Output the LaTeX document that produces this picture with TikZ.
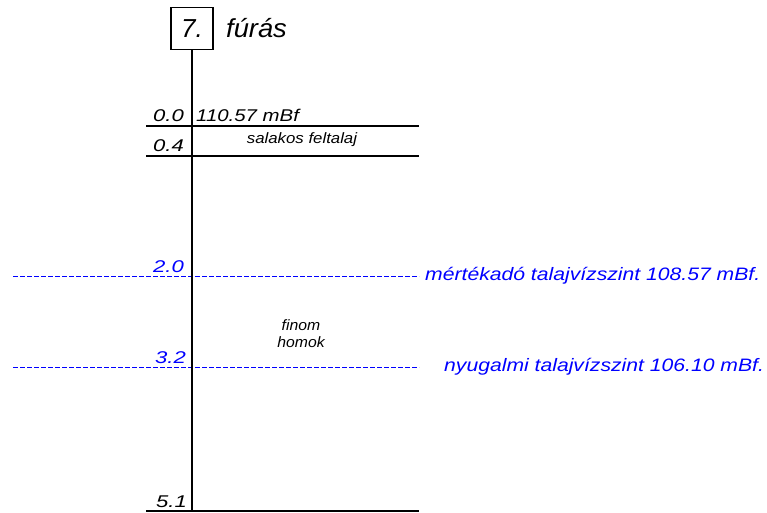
\documentclass[tikz,border=0pt]{standalone}
\usepackage{fontspec}
\setmainfont{Liberation Sans}
\newfontfamily\cadA[FakeStretch=1.3]{Liberation Sans}
\newfontfamily\cadB[FakeStretch=1.2]{Liberation Sans}
\newfontfamily\cadW[FakeStretch=1.175]{Liberation Sans}
\newfontfamily\cadC[FakeStretch=1.12]{Liberation Sans}
\newfontfamily\cadD[FakeStretch=1.05]{Liberation Sans}
\definecolor{wblue}{RGB}{0,0,255}
\begin{document}
\begin{tikzpicture}[x=1pt,y=-1pt,
  soil/.style={line width=1.3pt,black},
  water/.style={line width=1pt,draw=wblue,color=wblue,dash pattern=on 5pt off 2pt},
  depth/.style={anchor=base west,inner sep=0pt,font=\cadA\fontsize{17}{17}\selectfont\itshape},
  lbl/.style={inner sep=0pt,align=center},
  wlbl/.style={anchor=west,inner sep=0pt,text=wblue,font=\cadW\fontsize{18}{18}\selectfont\itshape}]
\useasboundingbox (0,0) rectangle (767,513);
% water lines
\coordinate (w1a) at (13,276.5); \coordinate (w1b) at (419,276.5);
\coordinate (w2a) at (13,367.5); \coordinate (w2b) at (419,367.5);
\draw[water] (w1a) -- (w1b) (w2a) -- (w2b);
% title box
\node[draw,line width=1.3pt,minimum width=42pt,minimum height=42pt,inner sep=0pt,
  font=\fontsize{26}{26}\selectfont\itshape] (box) at (192,28.5) {7.};
\node[anchor=base west,inner sep=0pt,font=\cadD\fontsize{26}{26}\selectfont\itshape] (title) at (226,38) {fúrás};
% axis
\coordinate (axbot) at (192,511);
\draw[soil] (box.south) -- (axbot);
% layer lines
\coordinate (l0a) at (146,126); \coordinate (l0b) at (419,126);
\coordinate (l1a) at (146,156); \coordinate (l1b) at (419,156);
\coordinate (l5a) at (146,511); \coordinate (l5b) at (419,511);
\draw[soil] (l0a) -- (l0b);
\draw[soil] (l1a) -- (l1b);
\draw[soil] (l5a) -- (l5b);
% depth labels
\node[depth] (d0) at (153,122) {0.0};
\node[depth,font=\cadB\fontsize{17}{17}\selectfont\itshape] (elev) at (196,122) {110.57 mBf};
\node[depth] (d1) at (153,152) {0.4};
\node[depth,text=wblue] (d2) at (153,272) {2.0};
\node[depth,text=wblue] (d3) at (155,363) {3.2};
\node[depth] (d5) at (156,507) {5.1};
% layer names
\node[lbl,font=\cadC\fontsize{15}{16}\selectfont\itshape] (salak) at (302,140) {salakos feltalaj};
\node[lbl,font=\cadD\fontsize{15}{17}\selectfont\itshape] (homok) at (301,334) {finom\\homok};
% water level labels
\node[wlbl] (wl1) at (425,276) {mértékadó talajvízszint 108.57 mBf.};
\node[wlbl] (wl2) at (444,367) {nyugalmi talajvízszint 106.10 mBf.};
\end{tikzpicture}
\end{document}
